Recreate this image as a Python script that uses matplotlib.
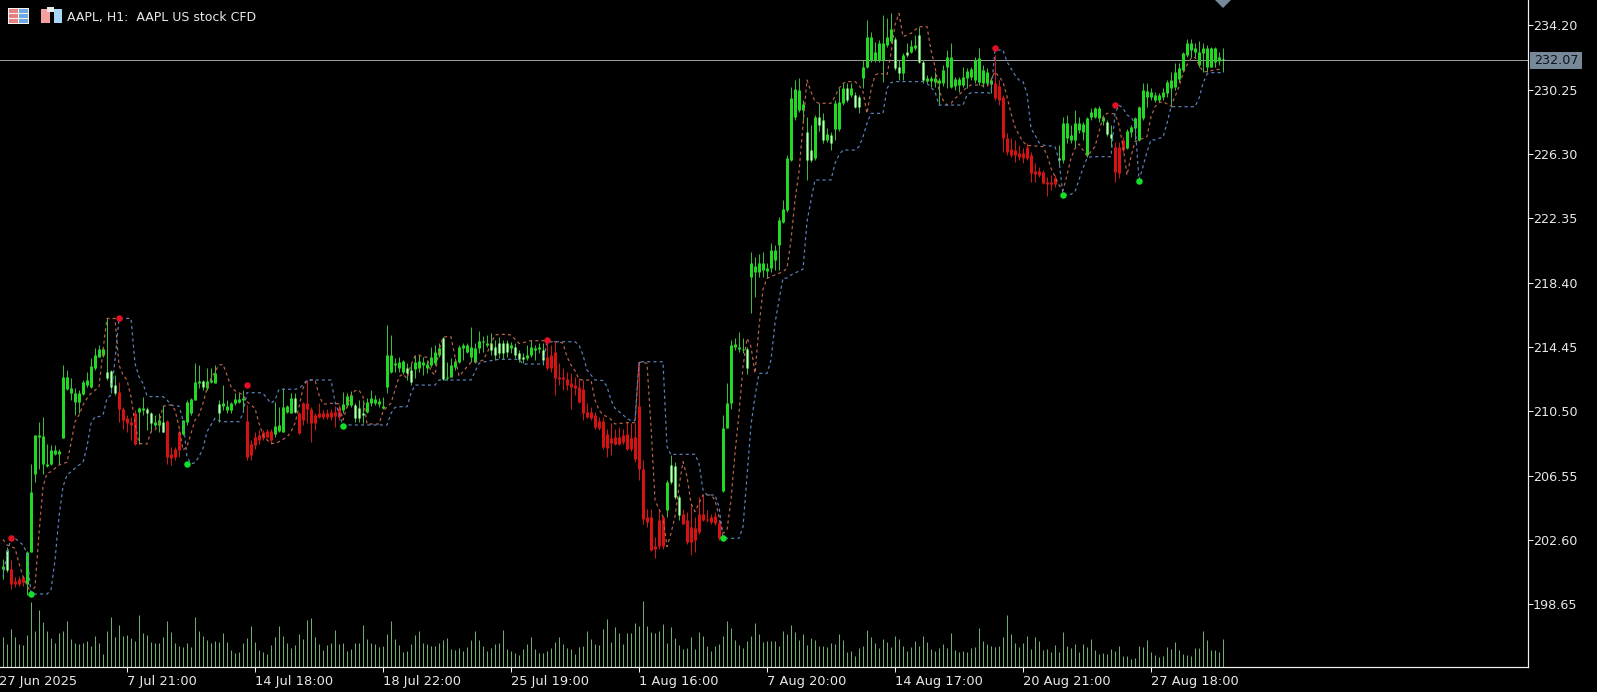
import numpy as np
import matplotlib
matplotlib.use("Agg")
import matplotlib.pyplot as plt
from matplotlib.patches import Rectangle, Polygon

opens = [
    200.83,201.96,200.83,200.1,200.2,200.3,199.9,201.85,206.67,208.9,
    207.29,207.15,207.29,207.9,207.9,208.83,211.84,211.64,211.08,211.08,
    211.56,212.11,211.97,213.13,213.85,213.96,212.93,212.99,212.11,211.7,
    210.67,210.06,209.85,210.37,210.47,210.57,210.67,210.37,209.65,209.65,
    209.85,209.91,207.86,208.21,209.24,209.13,209.85,210.37,211.19,212.25,
    212.35,211.9,212.31,212.21,210.94,210.82,210.57,210.57,210.98,211.08,
    211.19,209.91,208.52,208.93,209.03,209.24,209.3,209.3,209.13,209.3,
    209.24,210.47,210.41,211.29,210.37,210.98,211.02,210.67,210.26,210.37,
    210.37,210.41,210.47,210.47,210.73,210.57,210.88,210.88,210.88,210.73,
    210.41,210.47,210.98,211.02,210.94,210.73,211.97,212.93,213.34,213.13,
    212.93,213.13,213.03,213.09,213.13,213.34,213.13,213.34,213.44,213.96,
    214.98,212.52,212.62,213.24,213.55,214.37,214.16,213.85,213.55,214.37,
    214.78,214.57,214.67,214.47,214.67,214.71,214.71,214.37,214.43,214.06,
    213.85,213.75,213.96,214.26,214.31,214.26,213.85,213.96,214.16,212.62,
    212.62,212.46,212.21,212.11,211.97,211.84,210.47,210.47,210.26,209.91,
    209.91,209.09,208.83,208.93,208.93,209.03,209.09,208.83,208.93,210.82,
    206.98,204.01,204.01,202.2,203.8,204.01,204.42,207.19,207.12,205.24,
    204.2,203.8,203.39,203.35,204.2,204.2,203.9,204.0,204.05,203.64,
    205.6,209.5,211.02,214.47,214.3,214.26,214.3,218.74,219.05,219.05,
    219.17,219.1,219.3,219.8,220.71,222.14,222.86,225.93,228.59,229.0,
    229.0,227.67,226.54,226.03,228.59,228.38,227.16,227.46,227.81,227.81,
    229.41,230.33,229.92,229.92,229.82,230.94,231.66,232.07,232.07,232.07,
    232.07,232.99,233.25,233.34,231.66,231.25,232.58,232.58,232.78,233.6,
    231.96,230.8,230.8,230.74,230.68,230.63,231.66,230.39,230.47,230.53,
    230.53,230.94,231.0,230.84,230.74,230.63,230.68,230.59,230.68,230.47,
    229.82,227.26,226.58,226.54,226.38,226.38,226.75,226.23,225.27,225.27,
    225.21,224.6,224.6,224.8,226.03,225.93,227.26,227.16,227.16,227.77,
    227.67,226.23,228.55,228.59,228.49,228.34,228.28,227.5,226.75,226.75,
    227.16,226.64,227.67,227.87,227.16,228.49,229.82,229.78,229.61,229.61,
    229.82,230.02,230.33,230.39,230.88,231.45,232.37,232.68,232.58,231.76,
    232.48,231.66,231.66,231.96,232.02,232.11,
]
highs = [
    201.44,202.16,201.34,200.3,200.4,200.4,201.95,207.29,209.03,209.85,
    210.16,208.52,208.42,208.42,208.2,213.34,213.03,212.52,211.9,211.8,
    212.42,212.93,213.75,214.37,214.57,214.37,216.21,213.03,212.72,212.31,
    210.78,210.26,210.16,210.57,210.78,211.39,210.78,210.47,210.26,210.37,
    210.88,209.96,208.31,208.31,209.34,209.95,211.19,211.29,213.44,213.34,
    212.42,213.14,213.14,213.34,211.19,212.11,211.19,211.09,211.6,211.6,
    211.8,210.88,208.72,209.24,209.34,209.34,209.44,209.44,211.09,210.78,
    211.9,210.88,211.6,211.6,210.47,211.09,212.42,210.78,210.37,210.98,
    210.57,210.61,210.67,210.82,210.88,211.7,211.6,211.76,210.98,211.19,
    211.19,211.29,211.8,211.49,211.29,211.35,215.8,215.19,213.75,213.85,
    213.65,213.44,213.44,213.95,213.95,213.85,213.65,214.47,214.57,214.67,
    215.04,213.55,213.75,213.75,214.57,214.67,214.67,215.66,214.67,215.45,
    215.12,215.19,215.29,214.88,215.08,214.88,214.88,214.78,214.67,214.26,
    214.06,214.57,214.88,214.57,214.67,214.67,214.78,214.57,214.78,213.44,
    213.14,212.93,212.83,212.62,212.52,212.42,210.98,210.78,210.47,210.16,
    210.16,209.44,209.75,209.44,209.55,209.44,209.85,209.75,209.75,213.55,
    207.49,204.52,204.52,202.78,204.42,204.05,206.26,207.8,207.39,205.34,
    204.52,204.3,204.83,204.0,205.24,205.34,204.42,204.2,204.3,203.8,
    210.26,212.21,214.88,214.98,215.39,214.98,214.47,220.28,219.97,220.15,
    220.28,219.6,220.83,220.7,222.45,223.47,226.23,230.43,230.84,230.94,
    229.61,228.59,228.08,228.69,229.41,228.79,227.87,227.67,229.61,230.33,
    230.63,230.63,230.63,230.12,229.92,232.07,234.52,233.81,233.19,233.29,
    234.83,234.62,234.97,233.5,232.07,232.48,233.09,233.29,233.6,234.11,
    232.07,231.14,231.09,231.35,230.94,231.76,232.68,233.09,231.04,231.04,
    231.66,231.55,231.66,232.27,232.78,231.76,231.55,231.04,232.37,230.84,
    229.92,227.57,227.26,227.16,226.85,226.64,226.95,226.44,225.72,225.52,
    225.31,224.9,225.0,225.0,226.85,228.59,228.69,228.08,229.0,228.59,
    228.28,228.59,229.1,229.2,229.24,228.69,228.38,228.08,227.05,227.05,
    227.36,227.81,228.08,228.59,229.24,230.63,230.63,230.33,230.12,230.02,
    230.33,230.84,231.35,231.86,231.86,232.58,233.33,233.33,233.09,233.25,
    233.09,232.99,232.88,232.88,232.58,232.78,
]
lows = [
    200.21,200.62,199.6,199.74,199.8,199.8,199.2,201.85,206.16,206.98,
    206.67,207.08,207.19,207.8,207.29,208.83,211.8,211.19,210.26,210.37,
    211.5,211.97,211.9,213.03,213.81,213.85,212.42,211.6,211.5,209.85,
    209.44,209.24,208.72,208.42,208.52,210.26,209.34,209.24,209.55,209.24,
    209.24,207.29,207.19,207.49,207.7,209.03,209.65,210.26,211.19,211.9,
    211.8,211.8,212.21,212.21,209.85,210.57,210.41,210.37,210.88,210.98,
    210.47,207.53,207.53,208.21,208.52,208.72,208.83,208.52,208.93,209.24,
    209.24,210.37,210.37,210.37,209.13,209.65,209.75,208.62,209.34,210.06,
    210.0,210.0,209.96,209.55,209.96,210.41,210.78,210.78,209.85,209.85,
    209.75,210.37,210.82,210.88,210.78,210.67,211.64,212.83,212.93,212.93,
    212.79,212.42,212.11,212.52,212.93,212.72,212.87,213.24,213.34,213.85,
    212.42,212.42,212.58,213.03,213.44,213.65,214.06,213.55,213.44,214.06,
    214.16,214.47,213.96,213.65,213.75,213.69,213.85,214.06,213.75,213.55,
    213.44,213.65,213.85,213.65,214.06,213.34,213.03,212.93,211.49,212.11,
    211.8,211.8,210.61,211.49,210.98,209.96,210.06,209.96,209.44,209.34,
    208.21,207.7,207.8,208.42,208.42,208.52,208.11,208.07,207.39,206.26,
    203.6,203.39,201.95,201.5,202.06,202.06,204.0,206.06,205.13,203.8,
    203.55,202.37,201.65,201.85,202.98,203.76,203.7,203.6,203.5,202.61,
    205.55,209.5,210.67,214.26,214.16,214.06,212.79,216.53,217.5,218.74,
    218.74,218.67,219.05,219.17,219.17,222.04,222.76,225.89,228.38,228.9,
    228.18,224.7,225.83,225.93,227.73,226.95,227.05,226.54,227.16,227.73,
    229.3,229.51,229.82,229.1,228.79,230.33,231.55,231.96,231.96,231.96,
    230.74,232.88,233.09,231.45,230.84,230.84,232.27,232.48,232.68,231.86,
    230.63,230.63,230.43,230.43,229.3,230.47,230.33,230.33,230.22,230.12,
    230.39,230.33,230.84,230.63,230.53,230.43,230.53,230.02,229.61,229.3,
    226.44,226.23,226.13,225.83,225.93,225.72,225.93,224.6,224.6,224.9,
    224.45,223.72,224.09,224.29,225.52,225.72,226.95,226.95,226.64,227.57,
    227.16,226.13,228.38,228.49,228.28,228.08,227.4,226.75,224.6,224.8,
    226.44,226.58,227.36,227.16,227.12,228.38,229.2,229.61,229.51,229.51,
    229.61,229.82,229.2,230.22,230.74,231.35,232.27,232.17,232.17,231.66,
    231.35,231.35,231.62,231.66,231.76,231.35,
]
closes = [
    201.03,200.73,199.9,199.9,199.9,200.0,201.85,205.55,209.03,209.07,
    208.97,207.29,208.15,208.11,208.07,212.58,212.58,211.9,211.64,211.6,
    212.31,212.42,213.28,213.96,214.3,214.3,212.52,211.97,211.64,210.67,
    209.96,209.75,209.65,208.52,210.73,210.73,210.37,209.75,209.85,209.96,
    209.24,207.7,207.66,207.7,208.11,209.95,211.08,211.25,212.31,212.35,
    211.97,212.35,212.42,212.87,210.37,210.98,210.82,210.98,211.23,211.25,
    211.29,207.7,207.8,208.42,208.72,208.83,208.93,208.72,209.59,209.65,
    210.78,210.82,211.29,210.47,209.18,209.96,210.67,209.75,209.75,210.16,
    210.12,210.12,210.12,210.2,210.12,210.94,211.45,211.49,210.06,210.06,
    210.26,211.08,211.29,211.25,211.14,210.82,213.96,213.96,213.44,213.55,
    213.59,212.83,212.31,213.55,213.59,213.55,213.4,213.85,214.16,214.37,
    212.46,212.62,213.34,213.59,214.43,214.57,214.57,214.47,214.37,214.84,
    214.84,214.67,214.26,213.96,214.06,214.1,214.16,214.57,213.96,213.69,
    213.69,213.96,214.47,214.41,214.43,213.65,213.13,213.13,212.52,212.46,
    212.46,212.11,211.97,211.9,211.08,210.37,210.16,210.06,209.55,209.5,
    208.31,208.27,208.56,208.52,208.52,208.62,208.21,208.21,207.6,206.98,
    203.9,203.7,202.0,202.06,202.2,202.2,206.16,206.16,205.24,204.11,
    203.6,202.47,202.47,202.57,203.08,203.8,203.8,203.7,203.64,202.73,
    209.5,211.02,214.57,214.63,214.47,214.3,213.13,219.6,219.42,219.6,
    219.6,219.3,220.4,220.4,222.25,222.9,226.03,229.71,230.27,230.22,
    229.37,225.93,225.93,228.59,228.08,227.16,227.53,226.95,229.45,229.51,
    230.33,229.61,230.33,229.2,229.2,231.66,233.46,233.5,232.58,233.09,
    233.09,233.46,233.95,231.55,231.25,232.37,232.37,232.93,232.99,231.96,
    230.84,230.94,230.94,230.94,230.84,231.45,232.23,232.23,230.88,230.88,
    231.0,231.41,231.49,232.07,232.17,231.45,231.35,230.84,229.71,229.61,
    227.26,226.44,226.23,226.23,226.09,226.03,226.03,225.11,225.07,225.0,
    224.5,224.45,224.45,224.45,225.93,228.18,228.18,227.46,228.22,228.18,
    228.14,228.49,228.9,229.1,229.1,228.59,227.53,227.26,225.21,225.11,
    226.54,227.73,227.97,228.49,229.2,230.22,230.18,230.12,229.92,229.92,
    230.12,230.74,230.84,231.35,231.55,232.48,233.09,233.09,232.78,232.58,
    232.78,232.78,232.78,232.78,232.23,232.07,
]
blue_band = [
    200.35,201.78,202.7,202.7,202.5,202.29,201.78,199.3,199.28,199.28,
    199.28,199.28,199.53,201.37,204.03,205.87,206.59,206.79,207.0,207.2,
    207.36,208.33,209.76,210.17,210.17,210.27,211.29,211.5,213.65,216.2,
    216.2,216.2,216.2,213.44,212.62,212.21,211.44,211.4,211.4,211.4,
    211.4,211.19,210.89,210.82,210.82,209.96,207.71,207.28,207.34,207.71,
    208.22,209.25,209.66,210.07,209.92,209.86,209.86,209.86,209.86,209.86,
    210.37,211.64,211.64,211.64,211.64,211.6,211.29,210.99,211.19,211.85,
    211.85,211.85,211.85,211.85,211.91,212.11,212.42,212.42,212.42,212.42,
    212.42,212.42,212.42,211.09,210.37,209.6,209.66,209.66,209.66,209.66,
    209.66,209.66,209.66,209.66,209.66,209.66,209.66,210.37,210.74,210.78,
    210.78,210.78,211.6,212.11,212.11,212.11,212.11,212.11,212.11,212.42,
    212.42,212.42,212.42,212.42,212.42,212.42,212.42,212.42,212.93,213.44,
    213.54,213.54,213.61,213.65,213.69,213.69,213.69,213.69,213.69,213.69,
    213.4,213.4,213.4,213.4,213.4,213.4,214.77,214.77,214.77,214.77,
    214.77,214.77,214.77,214.77,214.57,213.95,213.03,212.73,212.42,212.42,
    212.38,212.01,211.19,210.68,210.48,210.27,210.07,209.92,209.92,213.54,
    213.54,213.54,213.54,213.54,213.54,213.54,208.33,207.82,207.86,207.86,
    207.86,207.86,207.86,207.86,207.3,205.67,205.36,205.36,205.36,204.64,
    202.74,202.7,202.7,202.7,202.7,203.41,206.49,209.66,211.4,212.83,
    212.83,212.83,213.65,215.9,217.33,218.68,218.68,218.87,218.97,219.13,
    219.22,222.14,223.47,224.7,224.7,224.7,224.7,224.7,225.72,226.23,
    226.54,226.54,226.54,226.54,226.75,227.36,228.18,228.79,228.79,228.79,
    228.79,230.33,230.68,230.74,230.74,230.74,230.74,230.74,230.74,230.74,
    230.74,230.63,230.39,230.12,229.3,229.3,229.3,229.3,229.3,229.3,
    229.3,229.92,230.06,230.06,230.06,230.06,230.06,230.02,232.68,232.68,
    232.68,231.96,231.55,231.14,230.84,230.74,230.02,227.87,227.46,226.99,
    226.85,226.79,226.79,226.75,225.93,223.78,223.78,223.82,223.99,224.7,
    225.42,226.03,226.13,226.13,226.13,226.13,226.13,226.13,228.79,229.3,
    229.1,228.69,228.55,228.18,224.7,225.52,226.44,227.16,227.16,227.26,
    227.32,228.18,229.2,229.2,229.2,229.2,229.2,229.2,229.2,229.71,
    230.63,231.21,231.29,231.29,231.29,231.29,
]
red_band = [
    202.64,202.29,202.19,202.09,201.17,200.35,199.84,199.32,199.73,203.01,
    205.87,206.69,206.79,207.0,207.2,207.3,207.36,208.53,209.86,210.27,
    210.89,211.29,211.6,211.8,211.97,214.26,216.2,216.2,216.2,213.34,
    212.73,212.42,211.4,209.76,208.53,208.49,208.49,209.25,209.35,209.76,
    210.78,210.89,210.89,210.58,209.55,208.12,208.33,209.15,209.96,210.27,
    210.99,211.91,212.52,212.93,213.34,213.38,212.73,212.01,211.76,211.64,
    211.5,211.09,210.89,210.68,209.76,209.04,208.74,208.53,208.53,208.63,
    208.78,208.9,209.25,209.76,210.78,211.91,212.38,212.42,212.42,211.5,
    210.95,210.95,210.99,210.99,210.95,209.96,210.78,211.5,211.76,211.8,
    211.4,209.72,209.72,209.72,209.72,210.48,210.78,210.99,211.8,212.62,
    212.79,212.52,213.34,213.89,213.95,213.85,213.81,212.93,212.73,214.26,
    215.04,215.08,215.08,213.85,212.66,212.93,213.24,213.5,213.54,213.54,
    213.65,214.06,214.67,215.18,215.22,215.22,215.22,215.18,214.92,214.67,
    214.71,214.77,214.83,214.83,214.83,214.83,214.83,214.77,214.77,214.77,
    214.67,213.85,213.34,212.99,212.46,212.42,212.42,212.42,211.19,210.58,
    210.27,210.17,210.0,209.72,209.76,209.76,209.8,209.8,209.8,213.5,
    213.5,213.44,209.55,205.05,204.48,204.03,202.19,203.01,204.03,205.87,
    207.41,206.49,204.85,204.34,204.85,205.36,205.36,205.36,205.05,204.03,
    203.01,203.21,205.05,207.92,210.37,213.24,214.98,214.47,212.83,215.67,
    218.0,218.66,218.77,218.87,218.97,219.07,219.28,221.02,223.47,225.21,
    228.08,230.84,230.12,229.51,229.41,229.41,229.41,229.41,229.82,230.33,
    230.63,230.74,230.74,230.74,230.53,230.12,228.79,230.22,231.14,231.25,
    231.21,231.14,232.48,234.22,234.93,233.5,233.6,233.7,233.91,234.11,
    234.11,234.11,232.68,231.66,230.22,229.61,229.3,229.41,229.71,229.92,
    230.18,230.39,230.53,230.53,230.53,230.47,230.43,230.84,231.35,231.04,
    230.74,229.82,228.79,227.97,227.46,227.05,226.81,226.81,226.79,226.75,
    226.75,226.23,225.42,224.9,224.39,224.05,225.0,226.03,226.64,226.91,
    226.54,226.17,226.44,226.75,227.67,228.55,228.79,228.79,228.75,228.08,
    226.75,225.0,226.13,227.05,227.16,227.26,227.36,228.59,229.2,229.45,
    229.51,229.37,229.24,229.82,230.43,231.25,231.76,232.17,232.23,231.76,
    231.35,231.35,231.41,231.45,231.49,231.55,
]
volumes = [
    89,69,113,89,69,66,96,194,108,171,
    134,108,86,71,101,108,138,83,71,68,
    71,79,63,94,71,39,108,149,89,125,
    93,95,86,78,156,101,95,74,71,71,
    90,138,105,71,63,59,71,59,149,108,
    93,80,71,77,74,101,74,51,41,44,
    71,86,123,74,51,44,39,66,89,123,
    93,71,56,66,99,83,141,146,89,68,
    50,66,71,111,69,71,47,53,71,71,
    126,83,71,68,59,63,99,138,83,66,
    44,47,69,96,108,71,69,63,63,71,
    81,86,53,51,56,47,59,81,108,81,
    63,47,56,69,71,111,53,47,41,36,
    53,69,90,53,41,41,47,56,74,90,
    68,56,53,39,59,63,108,83,69,66,
    113,144,74,120,101,69,101,101,132,123,
    198,123,105,101,108,129,71,120,86,66,
    53,56,90,53,104,93,63,47,63,69,
    93,138,117,81,66,56,78,93,132,99,
    74,78,77,78,63,108,99,125,105,81,
    99,66,86,81,63,63,59,71,69,99,
    81,45,48,33,57,63,110,90,72,57,
    84,75,60,93,84,63,48,60,78,63,
    93,75,54,48,57,68,57,102,51,45,
    48,45,57,60,117,78,69,63,60,63,
    90,156,99,72,60,72,93,54,90,78,
    51,54,45,66,45,105,63,57,69,45,
    69,60,84,51,39,42,39,54,48,63,
    33,33,24,27,63,60,81,45,36,30,
    33,60,54,75,51,39,36,33,57,57,
    108,81,51,51,45,84,
]
# bars painted red by the indicator, first and last bar of each run
red_runs = [(2,5),(29,33),(41,44),(61,67),(74,84),(136,165),(170,179),(248,263),(278,280)]

sell_bars = [2, 29, 61, 136, 248, 278]
sell_prices = [202.72, 216.25, 212.11, 214.87, 232.8, 229.3]
buy_bars = [7, 46, 85, 180, 265, 284]
buy_prices = [199.3, 207.28, 209.62, 202.74, 223.8, 224.64]

price_ticks = [234.20, 230.25, 226.30, 222.35, 218.40, 214.45, 210.50, 206.55, 202.60, 198.65]
date_ticks = [31, 63, 95, 127, 159, 191, 223, 255, 287]
date_labels = ["7 Jul 21:00", "14 Jul 18:00", "18 Jul 22:00", "25 Jul 19:00", "1 Aug 16:00",
               "7 Aug 20:00", "14 Aug 17:00", "20 Aug 21:00", "27 Aug 18:00"]
first_date = "27 Jun 2025"
last_price = 232.07
title = "AAPL, H1:  AAPL US stock CFD"

W, H = 1597, 692
PX = 72.0 / 100  # one pixel in points
TXT = "#e8e8e8"
SLATE = "#778899"

opens, highs, lows, closes = [np.array(a) for a in (opens, highs, lows, closes)]
for a in (opens, highs, lows, closes, blue_band, red_band, volumes):
    assert len(a) == 306, len(a)
bars = np.arange(306)
is_red = np.zeros(306, dtype=bool)
for a, b in red_runs:
    is_red[a:b+1] = True
is_pale = (closes < opens) & ~is_red
is_lime = ~is_red & ~is_pale
top = np.maximum(opens, closes)
bot = np.minimum(opens, closes)
highs = np.maximum(highs, top)
lows = np.minimum(lows, bot)


def px_rect(x, y, w, h, color):
    # header icon pieces, given in screen pixels from the top left
    fig.add_artist(Rectangle((x/W, 1-(y+h)/H), w/W, h/H, transform=fig.transFigure, color=color, lw=0))


fig = plt.figure(figsize=(W/100, H/100), dpi=100, facecolor="black")
ax = fig.add_axes([0, 25/H, 1527.5/W, 667/H], facecolor="black")
ax.set_xlim(-0.75, 381.125)
ax.set_ylim(194.8, 235.75)

vol_ax = ax.twinx()
vol_ax.set_ylim(0, 2001)
vol_ax.axis("off")
vol_ax.vlines(bars, 0, volumes, color="#6fae6f", lw=PX)

ax.axhline(last_price, color="#98a0a0", lw=PX, zorder=1)

# wicks
ax.vlines(bars[~is_red], lows[~is_red], highs[~is_red], color="#3cbc3c", lw=PX, zorder=2)
ax.vlines(bars[is_red], lows[is_red], highs[is_red], color="#cc1a1a", lw=PX, zorder=2)
# bodies
ax.vlines(bars[is_lime], bot[is_lime], top[is_lime], color="#22d822", lw=3*PX, zorder=3)
ax.vlines(bars[is_red], bot[is_red], top[is_red], color="#d81212", lw=3*PX, zorder=3)
ax.vlines(bars[is_pale], bot[is_pale], top[is_pale], color="#3cbc3c", lw=3*PX, zorder=3)
ax.vlines(bars[is_pale], bot[is_pale], top[is_pale], color="#d2f2d2", lw=1.2*PX, zorder=3.1)

ax.plot(bars, red_band, color="#b8654c", lw=1.2*PX, ls=(0, (2.6, 2.6)), zorder=4)
ax.plot(bars, blue_band, color="#5c82bd", lw=1.2*PX, ls=(0, (2.6, 2.6)), zorder=4)

ax.plot(sell_bars, sell_prices, "o", color="#e01025", ms=6.5*PX, mew=0, zorder=5)
ax.plot(buy_bars, buy_prices, "o", color="#12e02a", ms=6.5*PX, mew=0, zorder=5)
ax.plot([305], [235.75], "D", color=SLATE, ms=11.5*PX, mew=0, zorder=5)

for s in ("top", "left"):
    ax.spines[s].set_visible(False)
for s in ("right", "bottom"):
    ax.spines[s].set_color("#f0f0f0")
    ax.spines[s].set_linewidth(1.2*PX)

ax.yaxis.tick_right()
ax.set_yticks(price_ticks)
ax.set_yticklabels(["%.2f" % p for p in price_ticks], fontsize=9.2, color=TXT)
ax.set_xticks(date_ticks)
ax.set_xticklabels(date_labels, fontsize=9.4, color=TXT, ha="left")
ax.tick_params(axis="y", length=5*PX, width=PX, color="#f0f0f0", pad=0.3)
ax.tick_params(axis="x", length=5*PX, width=PX, color="#f0f0f0", pad=2)
ax.text(-1, 194.3, first_date, fontsize=9.4, color=TXT, ha="left", va="top", clip_on=False)

# current price box on the axis
fig.add_artist(Rectangle((1530/W, 1-69/H), 52/W, 17/H, transform=fig.transFigure, color=SLATE, lw=0))
fig.text(1556/W, 1-60.5/H, "%.2f" % last_price, fontsize=9.2, color="#10141c", ha="center", va="center")

# header
px_rect(8, 8, 21, 16, "#f4f4f4")
px_rect(9, 9, 9, 4, "#e88080")
px_rect(9, 14, 9, 4, "#e88080")
px_rect(9, 19, 9, 4, "#e88080")
px_rect(19, 9, 9, 4, "#70a8e0")
px_rect(19, 14, 9, 4, "#70a8e0")
px_rect(19, 19, 9, 4, "#70a8e0")
px_rect(41, 9, 9, 14, "#f4a0a0")
px_rect(47, 7, 7, 5, "#e8e8e8")
px_rect(54, 9, 8, 14, "#a8d8f8")
fig.text(67/W, 1-17/H, title, fontsize=9.0, color=TXT, ha="left", va="center")

fig.savefig("out.png", dpi=100, facecolor="black")
